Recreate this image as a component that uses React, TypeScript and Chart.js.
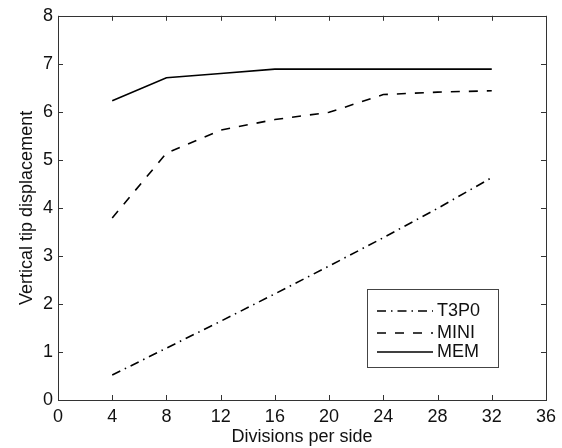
import React, { useEffect, useRef } from "react";
import { Chart, registerables } from "chart.js";

Chart.register(...registerables);

const divisions = [4, 8, 12, 16, 20, 24, 28, 32];
const t3p0 = [0.52, 1.08, 1.64, 2.21, 2.79, 3.38, 3.99, 4.63];
const mini = [3.79, 5.14, 5.62, 5.84, 5.99, 6.36, 6.41, 6.44];
const mem = [6.23, 6.71, 6.8, 6.89, 6.89, 6.89, 6.89, 6.89];

const seriesNames = ["T3P0", "MINI", "MEM"];
const seriesDash = [
  [9, 5, 1.5, 5],
  [9, 9],
  [],
];

const FONT = "'Liberation Sans', Arial, sans-serif";

const framePlugin = {
  id: "frame",
  afterDraw(chart: any) {
    const { ctx, chartArea, scales } = chart;
    const { left, right, top, bottom } = chartArea;
    const xs = scales.x;
    const ys = scales.y;
    ctx.save();
    ctx.strokeStyle = "#333";
    ctx.lineWidth = 1;
    ctx.setLineDash([]);
    ctx.strokeRect(Math.round(left) + 0.5, Math.round(top) + 0.5, Math.round(right - left), Math.round(bottom - top));
    const tl = 5;
    ctx.beginPath();
    xs.ticks.forEach((t: any) => {
      const px = Math.round(xs.getPixelForValue(t.value)) + 0.5;
      ctx.moveTo(px, bottom);
      ctx.lineTo(px, bottom - tl);
      ctx.moveTo(px, top);
      ctx.lineTo(px, top + tl);
    });
    ys.ticks.forEach((t: any) => {
      const py = Math.round(ys.getPixelForValue(t.value)) + 0.5;
      ctx.moveTo(left, py);
      ctx.lineTo(left + tl, py);
      ctx.moveTo(right, py);
      ctx.lineTo(right - tl, py);
    });
    ctx.stroke();

    // legend box
    const bx = 367, by = 289, bw = 131, bh = 78;
    ctx.fillStyle = "#fff";
    ctx.fillRect(bx, by, bw, bh);
    ctx.strokeStyle = "#444";
    ctx.strokeRect(bx + 0.5, by + 0.5, bw, bh);
    const rows = [311, 333, 352];
    ctx.font = `18px ${FONT}`;
    ctx.textBaseline = "middle";
    ctx.textAlign = "left";
    rows.forEach((ry, i) => {
      ctx.strokeStyle = "#000";
      ctx.lineWidth = 1.5;
      ctx.setLineDash(seriesDash[i]);
      ctx.beginPath();
      ctx.moveTo(377, ry);
      ctx.lineTo(433, ry);
      ctx.stroke();
      ctx.fillStyle = "#111";
      ctx.fillText(seriesNames[i], 437, ry);
    });
    ctx.restore();
  },
};

export default function App() {
  const ref = useRef<HTMLCanvasElement>(null);
  useEffect(() => {
    if (!ref.current) return;
    const mk = (vals: number[]) => divisions.map((d, i) => ({ x: d, y: vals[i] }));
    const all = [t3p0, mini, mem];
    const chart = new Chart(ref.current, {
      type: "line",
      data: {
        datasets: all.map((vals, i) => ({
          label: seriesNames[i],
          data: mk(vals),
          borderColor: "#000",
          borderWidth: 1.6,
          borderDash: seriesDash[i],
          pointRadius: 0,
          fill: false,
          tension: 0,
        })),
      },
      options: {
        animation: false,
        responsive: false,
        layout: { padding: { top: 13, right: 13, left: 0, bottom: 0 } },
        plugins: { legend: { display: false }, tooltip: { enabled: false } },
        scales: {
          x: {
            type: "linear",
            min: 0,
            max: 36,
            afterFit: (s: any) => {
              s.height = 48;
            },
            grid: { display: false, drawTicks: false },
            border: { display: false },
            ticks: { stepSize: 4, padding: 6, color: "#111", font: { family: FONT, size: 18 } },
            title: {
              display: true,
              text: "Divisions per side",
              color: "#111",
              font: { family: FONT, size: 18 },
              padding: { top: 0, bottom: 0 },
            },
          },
          y: {
            min: 0,
            max: 8,
            afterFit: (s: any) => {
              s.width = 58;
            },
            grid: { display: false, drawTicks: false },
            border: { display: false },
            ticks: { stepSize: 1, padding: 5, color: "#111", font: { family: FONT, size: 18 } },
            title: {
              display: true,
              text: "Vertical tip displacement",
              color: "#111",
              font: { family: FONT, size: 18 },
              padding: { top: 16, bottom: 0 },
            },
          },
        },
      },
      plugins: [framePlugin],
    });
    return () => chart.destroy();
  }, []);
  return (
    <div style={{ position: "absolute", left: 0, top: 0, width: 562, height: 448, background: "#fff" }}>
      <canvas ref={ref} width={562} height={448} style={{ display: "block" }} />
    </div>
  );
}
